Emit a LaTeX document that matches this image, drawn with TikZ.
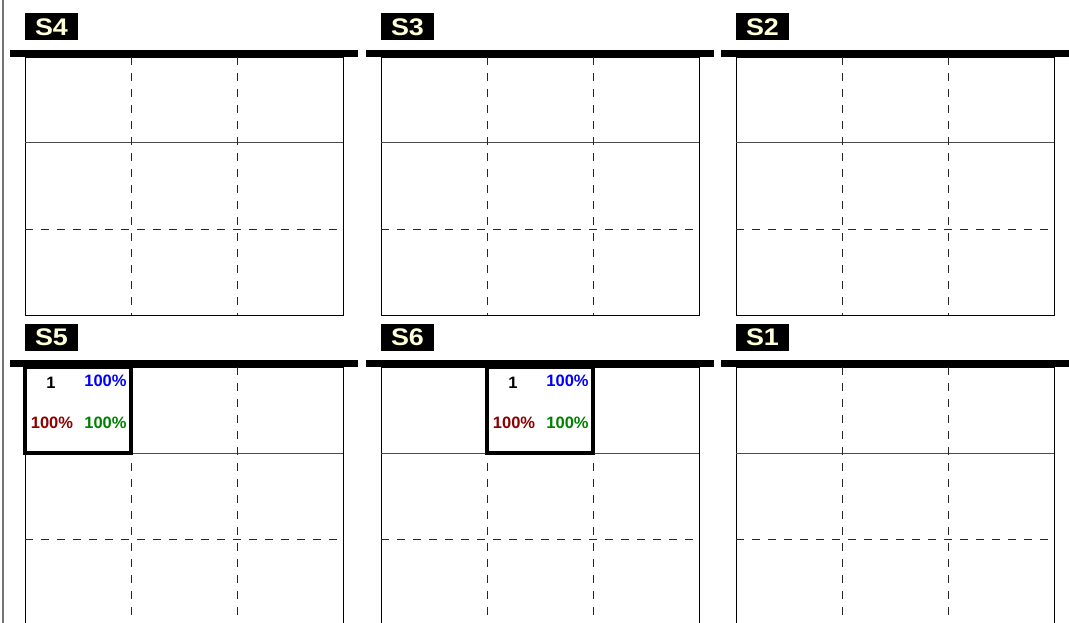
\documentclass[tikz,border=0pt]{standalone}
\usepackage{fontspec}
\setmainfont{Liberation Sans}
\definecolor{labtext}{RGB}{255,255,215}
\definecolor{pctblue}{RGB}{0,0,255}
\definecolor{pctred}{RGB}{139,0,0}
\definecolor{pctgreen}{RGB}{0,128,0}
\tikzset{
  bar/.style={fill=black},
  frame/.style={draw=black,line width=0.9pt},
  solidsep/.style={draw=black!70,line width=1pt},
  dashsep/.style={draw=black!85,line width=0.9pt,dash pattern=on 8pt off 8pt},
  tag/.style={fill=black,text=labtext,font=\bfseries\fontsize{24}{24}\selectfont,minimum width=53pt,minimum height=27pt,inner sep=0pt},
  hl/.style={draw=black,line width=3.4pt},
  val/.style={font=\bfseries\fontsize{16.5}{17}\selectfont,inner sep=0pt},
  border/.style={draw=black!55,line width=1.5pt},
}
\newcommand\gridpanel[4]{%
  \begin{scope}[shift={(#1,#2)}]
    \fill[bar] (-15,50) rectangle (333,57);
    \node[tag] (#4) at (26.5,27) {\scalebox{1.12}[1]{#3}};
    \draw[frame] (0,57) rectangle (318,315);
    \draw[solidsep] (0,143) -- (318,143);
    \draw[dashsep] (0,229) -- (318,229);
    \draw[dashsep] (106,57) -- (106,315);
    \draw[dashsep] (212,57) -- (212,315);
  \end{scope}}
\newcommand\hlcell[2]{%
  \begin{scope}[shift={(#1,366)}]
    \draw[hl] (0,1) rectangle (106,87);
    \node[val,text=black] (#2one) at (26,17) {1};
    \node[val,text=pctblue] (#2b) at (80.5,15) {100\%};
    \node[val,text=pctred] (#2r) at (27,56.5) {100\%};
    \node[val,text=pctgreen] (#2g) at (80.5,56.5) {100\%};
  \end{scope}}
\begin{document}
\begin{tikzpicture}[x=1pt,y=-1pt]
  \useasboundingbox (0,0) rectangle (1069,623);
  \clip (0,0) rectangle (1069,623);
  \fill[white] (0,0) rectangle (1069,623);
  \draw[border] (3,0) -- (3,623);
  \gridpanel{25}{0}{S4}{sfour}
  \gridpanel{381}{0}{S3}{sthree}
  \gridpanel{736}{0}{S2}{stwo}
  \gridpanel{25}{310}{S5}{sfive}
  \gridpanel{381}{310}{S6}{ssix}
  \gridpanel{736}{310}{S1}{sone}
  \hlcell{25}{cfive}
  \hlcell{487}{csix}
\end{tikzpicture}
\end{document}
